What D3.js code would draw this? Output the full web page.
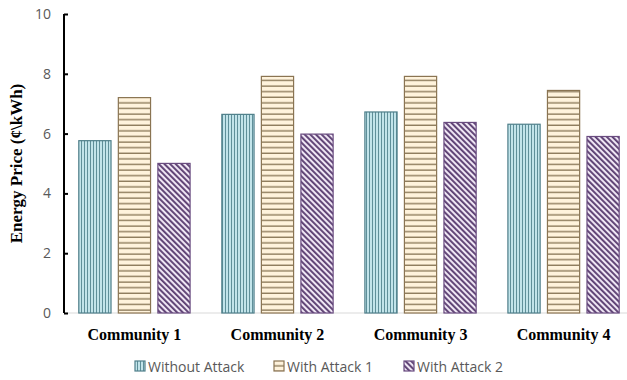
<!DOCTYPE html>
<html>
<head>
<meta charset="utf-8">
<script src="https://cdn.jsdelivr.net/npm/d3@7"></script>
<style>
  body { margin: 0; background: #fff; }
</style>
</head>
<body>
<svg id="chart" width="627" height="380"></svg>
<script>
const communities = ["Community 1", "Community 2", "Community 3", "Community 4"];
const seriesNames = ["Without Attack", "With Attack 1", "With Attack 2"];
const withoutAttack = [5.78, 6.66, 6.74, 6.33];
const withAttack1 = [7.22, 7.93, 7.93, 7.46];
const withAttack2 = [5.02, 6.0, 6.39, 5.92];
const yTicks = [0, 2, 4, 6, 8, 10];

const svg = d3.select("#chart");
const margin = { top: 14, right: -7, bottom: 67, left: 64 };
const width = 627 - margin.left - margin.right;
const height = 380 - margin.top - margin.bottom;

// patterns for the three series
const defs = svg.append("defs");
const p1 = defs.append("pattern").attr("id", "pat0")
  .attr("patternUnits", "userSpaceOnUse").attr("width", 3).attr("height", 3);
p1.append("rect").attr("width", 3).attr("height", 3).attr("fill", "#c2e4ea");
p1.append("rect").attr("x", 2).attr("width", 1).attr("height", 3).attr("fill", "#5f8f99");

const p2 = defs.append("pattern").attr("id", "pat1")
  .attr("patternUnits", "userSpaceOnUse").attr("width", 6).attr("height", 5.6);
p2.append("rect").attr("width", 6).attr("height", 5.6).attr("fill", "#fff3dc");
p2.append("rect").attr("y", 4.2).attr("width", 6).attr("height", 1.4).attr("fill", "#8e7c5c");

const p3 = defs.append("pattern").attr("id", "pat2")
  .attr("patternUnits", "userSpaceOnUse").attr("width", 4).attr("height", 4)
  .attr("patternTransform", "rotate(-45)");
p3.append("rect").attr("width", 4).attr("height", 4).attr("fill", "#efe6f4");
p3.append("rect").attr("width", 1.9).attr("height", 4).attr("fill", "#5c3f72");

const strokes = ["#4f7f8a", "#8a7452", "#6a4c80"];

const g = svg.append("g").attr("transform", `translate(${margin.left},${margin.top})`);

const x0 = d3.scaleBand().domain(communities).range([0, width])
  .paddingInner(0.215).paddingOuter(0.1);
const x1 = d3.scaleBand().domain(seriesNames).range([0, x0.bandwidth()]).paddingInner(0.16);
const y = d3.scaleLinear().domain([0, 10]).range([height, 0]);

const seriesData = [withoutAttack, withAttack1, withAttack2];

// baseline
g.append("line").attr("x1", 0).attr("x2", width + 10).attr("y1", y(0)).attr("y2", y(0))
  .attr("stroke", "#d9d9d9").attr("stroke-width", 1);

seriesData.forEach((vals, si) => {
  g.selectAll(".bar" + si)
    .data(vals)
    .enter()
    .append("rect")
    .attr("x", (d, i) => x0(communities[i]) + x1(seriesNames[si]) + 0.5)
    .attr("y", (d) => y(d) + 0.5)
    .attr("width", x1.bandwidth() - 1)
    .attr("height", (d) => y(0) - y(d) - 0.5)
    .attr("fill", `url(#pat${si})`)
    .attr("stroke", strokes[si])
    .attr("stroke-width", 1.2);
});

// y axis
const yAxis = g.append("g")
  .call(d3.axisLeft(y).tickValues(yTicks).tickSize(-4).tickPadding(13));
yAxis.select(".domain").attr("stroke", "#000").attr("stroke-width", 2)
  .attr("d", `M0,${y(10)}V${y(0)}`);
yAxis.selectAll(".tick line").attr("stroke", "#000").attr("stroke-width", 2);
yAxis.selectAll(".tick text")
  .style("font-family", "'Open Sans', sans-serif")
  .style("font-size", "14px")
  .attr("fill", "#595959");

// category labels
g.selectAll(".cat")
  .data(communities)
  .enter()
  .append("text")
  .attr("x", (d) => x0(d) + x0.bandwidth() / 2)
  .attr("y", height + 27)
  .attr("text-anchor", "middle")
  .style("font-family", "'Liberation Serif', 'Times New Roman', serif")
  .style("font-weight", "bold")
  .style("font-size", "16px")
  .attr("fill", "#000")
  .text((d) => d);

// y axis title
svg.append("text")
  .attr("transform", `translate(22,${margin.top + height / 2}) rotate(-90)`)
  .attr("text-anchor", "middle")
  .style("font-family", "'Liberation Serif', 'Times New Roman', serif")
  .style("font-weight", "bold")
  .style("font-size", "17px")
  .text("Energy Price (¢\\kWh)");

// legend
const legendX = [135, 274, 404];
const legend = svg.append("g");
seriesNames.forEach((name, i) => {
  const lg = legend.append("g").attr("transform", `translate(${legendX[i]},361)`);
  lg.append("rect").attr("width", 10).attr("height", 10)
    .attr("fill", `url(#pat${i})`).attr("stroke", strokes[i]).attr("stroke-width", 1.2);
  lg.append("text").attr("x", 13).attr("y", 10.5)
    .style("font-family", "'Open Sans', sans-serif")
    .style("font-size", "14px")
    .attr("fill", "#595959")
    .text(name);
});
</script>
</body>
</html>
